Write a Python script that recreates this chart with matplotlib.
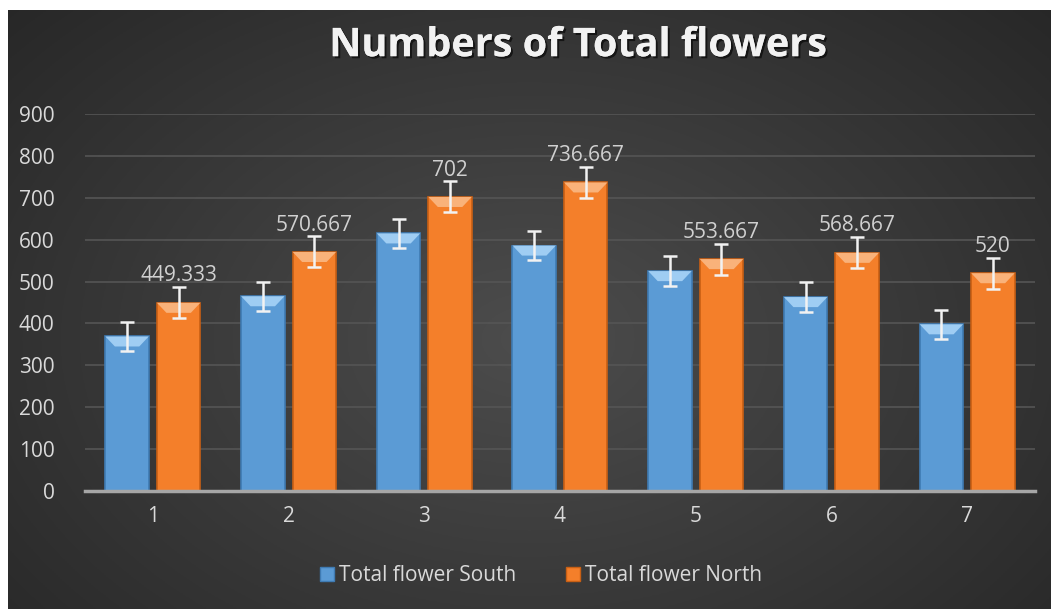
import numpy as np
import matplotlib.pyplot as plt
from matplotlib import patheffects as pe
from matplotlib.patches import Polygon

categories = ['1', '2', '3', '4', '5', '6', '7']
south = [369, 465, 615, 586, 525, 463, 398]
north = [449.333, 570.667, 702, 736.667, 553.667, 568.667, 520]
south_err = [35, 35, 35, 35, 35, 35, 35]
north_err = [37, 37, 37, 37, 37, 37, 37]
north_labels = ['449.333', '570.667', '702', '736.667', '553.667', '568.667', '520']

plt.rcParams['font.family'] = ['Open Sans', 'DejaVu Sans']

fig = plt.figure(figsize=(10.51, 6.09), dpi=100)
fig.patch.set_facecolor('white')

# dark radial background
bg = fig.add_axes([8 / 1051, 0, 1 - 8 / 1051, 1 - 10 / 609])
yy, xx = np.mgrid[0:1:300j, 0:1:500j]
r = np.sqrt(((xx - 0.5) / 0.75) ** 2 + ((yy - 0.55) / 0.9) ** 2)
shade = 0.30 - 0.16 * np.clip(r, 0, 1)
bg.imshow(np.dstack([shade] * 3), extent=[0, 1, 0, 1], aspect='auto', origin='upper')
bg.axis('off')

ax = fig.add_axes([85 / 1051, 1 - 491 / 609, 950 / 1051, 377 / 609])
ax.set_facecolor('none')

x = np.arange(1, len(categories) + 1)
w = 0.32
off = 0.19
bevel = 24  # height of the lighter top bevel, in data units

for xs, vals, errs, col, edge, cap in [
    (x - off, south, south_err, '#5b9bd5', '#3f7bb3', '#9fcdf3'),
    (x + off, north, north_err, '#f47f2a', '#c85f14', '#f9b27a'),
]:
    ax.bar(xs, vals, width=w, color=col, edgecolor=edge, linewidth=1.2, zorder=3)
    for xi, v in zip(xs, vals):
        ax.add_patch(Polygon([(xi - w / 2, v), (xi + w / 2, v),
                              (xi + w / 2 - 0.07, v - bevel), (xi - w / 2 + 0.07, v - bevel)],
                             closed=True, facecolor=cap, edgecolor='none', zorder=3.5))
    ax.errorbar(xs, vals, yerr=errs, fmt='none', ecolor='#f2f2f2',
                elinewidth=1.8, capsize=5, capthick=1.8, zorder=4)

for xi, v, e, lab in zip(x + off, north, north_err, north_labels):
    ax.text(xi, v + e + 2, lab, ha='center', va='bottom', color='#d0d0d0',
            fontsize=15, zorder=5)

ax.set_xlim(0.5, 7.5)
ax.set_ylim(0, 900)
ax.set_yticks(range(0, 901, 100))
ax.set_xticks(x)
ax.set_xticklabels(categories)
ax.yaxis.grid(True, color='#555555', linewidth=1.2, zorder=0)
ax.set_axisbelow(True)
for s in ['top', 'right', 'left']:
    ax.spines[s].set_visible(False)
ax.spines['bottom'].set_color('#a6a6a6')
ax.spines['bottom'].set_linewidth(2.5)
ax.spines['bottom'].set_zorder(6)
ax.tick_params(axis='both', length=0, colors='#d9d9d9', labelsize=15)
ax.tick_params(axis='y', pad=22)
ax.tick_params(axis='x', pad=11)

fig.text(0.55, 0.925, 'Numbers of Total flowers', ha='center', va='center',
         fontsize=28.5, fontweight='bold', color='#f2f2f2',
         path_effects=[pe.withSimplePatchShadow(offset=(1.5, -1.5), shadow_rgbFace='black', alpha=0.6),
                       pe.Normal()])

h1 = plt.Line2D([], [], marker='s', linestyle='none', markersize=10,
                markerfacecolor='#5b9bd5', markeredgecolor='#3f7bb3')
h2 = plt.Line2D([], [], marker='s', linestyle='none', markersize=10,
                markerfacecolor='#f47f2a', markeredgecolor='#c85f14')
leg = fig.legend([h1, h2], ['Total flower South', 'Total flower North'],
                 loc='center', bbox_to_anchor=(0.513, 0.055), ncol=2, frameon=False,
                 fontsize=15, labelcolor='#d9d9d9', handletextpad=0.1,
                 columnspacing=2.2, handlelength=1)

fig.savefig('out.png', dpi=100, facecolor='white')
